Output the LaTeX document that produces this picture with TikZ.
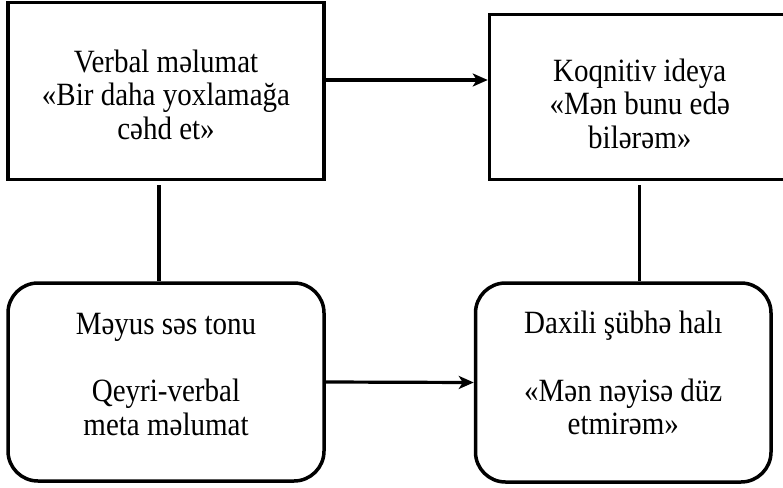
\documentclass[tikz,border=0pt]{standalone}
\usepackage{graphicx}
\usepackage{fontspec}
\setmainfont{Liberation Serif}
\usetikzlibrary{arrows.meta,calc}
% centred lines of text, set slightly tall; optional vertical offset
% (the box keeps its natural height and depth, so the offset shows)
\newcommand{\tallstack}[2][0pt]{\raisebox{#1}[\height][\depth]{\scalebox{1}[1.12]{\begin{tabular}{@{}c@{}}#2\end{tabular}}}}
\begin{document}
\begin{tikzpicture}[x=1pt,y=-1pt,
  box/.style={draw,line width=3.5pt,inner sep=0pt,
    font=\fontsize{29}{30}\selectfont},
  roundbox/.style={box,rounded corners=30pt},
  link/.style={line width=3.2pt},
  arr/.style={link,-{Stealth[length=15pt,width=13pt,inset=4pt]}}]
\clip (0,0) rectangle (783,487);
\fill[white] (0,0) rectangle (783,487);

\node[box,minimum width=316pt,minimum height=177pt] (tl) at (166,91)
  {\tallstack[-8pt]{Verbal məlumat\\«Bir daha yoxlamağa\\cəhd et»}};
\node[box,minimum width=300.5pt,minimum height=165pt] (tr) at (639.75,97)
  {\tallstack[-11pt]{Koqnitiv ideya\\«Mən bunu edə\\bilərəm»}};
\node[roundbox,minimum width=316pt,minimum height=198pt] (bl) at (166,382)
  {\tallstack[4pt]{Məyus səs tonu\\ \\Qeyri-verbal\\meta məlumat}};
\node[roundbox,minimum width=295.5pt,minimum height=199pt] (br) at (623.25,382.5)
  {\tallstack[5pt]{Daxili şübhə halı\\ \\«Mən nəyisə düz\\etmirəm»}};

\coordinate (tlx) at (159,0);
\draw[arr] (tl.east |- 0,80) -- (tr.west |- 0,80);
\draw[arr] (bl.east) -- (br.west);
\draw[link,shorten <=4pt] (tl.south -| tlx) -- (bl.north -| tlx);
\draw[link,shorten <=4pt] (tr.south) -- (tr.south |- br.north);
\end{tikzpicture}
\end{document}
